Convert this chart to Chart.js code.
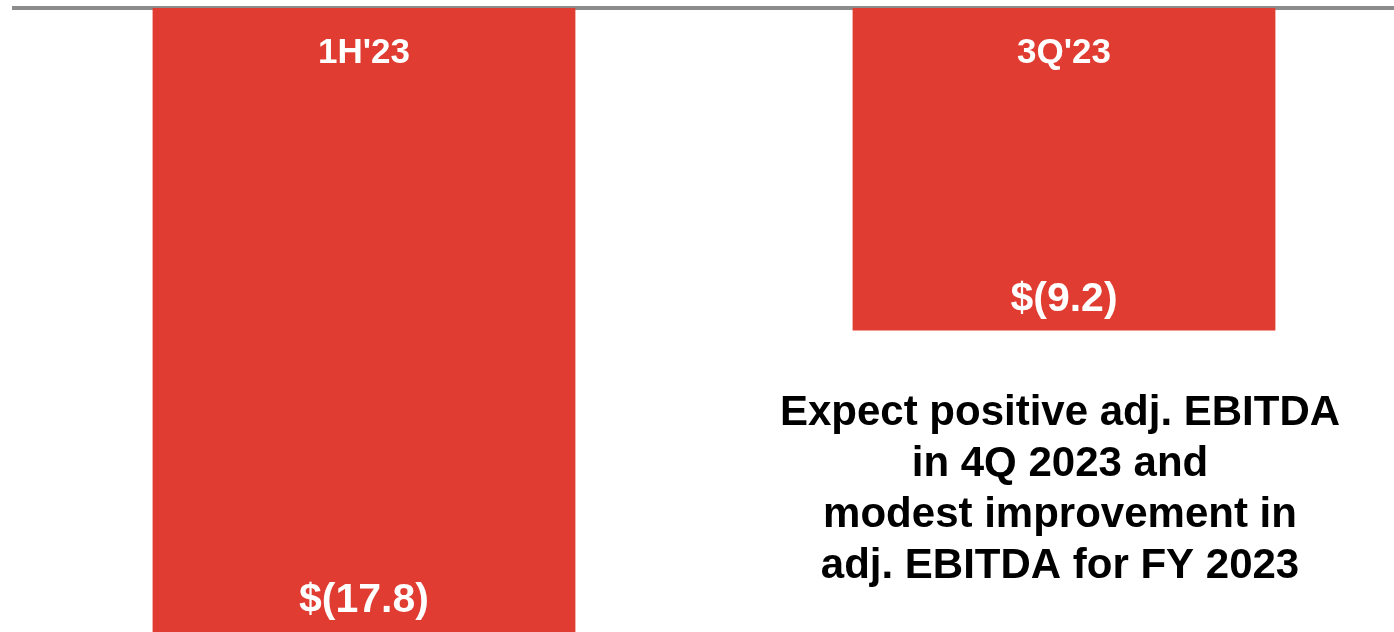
<!DOCTYPE html>
<html>
<head>
<meta charset="utf-8">
<script src="https://cdn.jsdelivr.net/npm/chart.js@4.4.0/dist/chart.umd.min.js"></script>
<style>
  html, body { margin: 0; padding: 0; background: #fff; overflow: hidden; }
  #wrap { width: 1394px; height: 632px; overflow: hidden; }
</style>
</head>
<body>
<div id="wrap"><canvas id="chart" width="1420" height="632"></canvas></div>
<script>
// Adj. EBITDA ($M) by period
const periods = ["1H'23", "3Q'23"];
const adjEbitda = [-17.8, -9.2];
const valueLabels = ['$(17.8)', '$(9.2)'];
const noteLines = [
    'Expect positive adj. EBITDA',
    'in 4Q 2023 and',
    'modest improvement in',
    'adj. EBITDA for FY 2023'
];

const FONT = '"Liberation Sans", Arial, sans-serif';

// period name at top of each bar, value near its bottom, note under 3Q bar
const barText = {
    id: 'barText',
    afterDatasetsDraw(chart) {
        const ctx = chart.ctx;
        const bars = chart.getDatasetMeta(0).data;
        ctx.save();
        ctx.textAlign = 'center';
        ctx.textBaseline = 'middle';
        ctx.fillStyle = '#ffffff';
        bars.forEach((bar, i) => {
            ctx.font = 'bold 35px ' + FONT;
            ctx.fillText(periods[i], bar.x, bar.base + 45);
            ctx.font = 'bold 41px ' + FONT;
            ctx.fillText(valueLabels[i], bar.x, bar.y - 31);
        });

        const b = bars[1];
        ctx.fillStyle = '#000000';
        ctx.font = 'bold 42px ' + FONT;
        noteLines.forEach((line, i) => {
            ctx.fillText(line, b.x - 4, b.y + 83 + i * 51);
        });
        ctx.restore();
    }
};

new Chart(document.getElementById('chart'), {
    type: 'bar',
    data: {
        labels: periods,
        datasets: [{
            data: adjEbitda,
            backgroundColor: '#e03c31',
            borderWidth: 0,
            categoryPercentage: 1,
            barPercentage: 0.604
        }]
    },
    options: {
        responsive: false,
        animation: false,
        layout: { padding: { left: 14, right: 6, top: 0, bottom: 0 } },
        plugins: {
            legend: { display: false },
            tooltip: { enabled: false }
        },
        scales: {
            x: {
                position: 'top',
                z: 1,
                grid: { display: false },
                ticks: { display: false },
                border: { display: true, color: '#8c8c8c', width: 4 }
            },
            y: {
                display: false,
                min: -17.8,
                max: 0
            }
        }
    },
    plugins: [barText]
});
</script>
</body>
</html>
